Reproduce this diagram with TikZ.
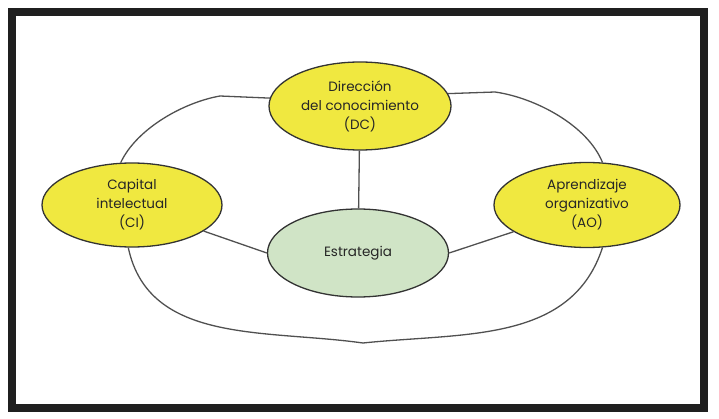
\documentclass[tikz,border=0pt]{standalone}
\usepackage{fontspec}
\setmainfont{Poppins}
\usetikzlibrary{shapes.geometric}
\definecolor{ovalyellow}{RGB}{240,232,64}
\definecolor{ovalgreen}{RGB}{208,228,198}
\definecolor{linegray}{RGB}{80,80,80}
\begin{document}
\begin{tikzpicture}[x=1pt,y=1pt,font=\fontsize{13.5}{19}\selectfont,
  oval/.style={ellipse,draw=black!80,line width=1.3pt,inner sep=0pt,align=center,text=black!85},
  link/.style={linegray,line width=1.3pt}]
  \useasboundingbox (0,0) rectangle (719,418);
  % frame
  \draw[black!88,line width=8pt] (12,10) rectangle (704,406);

  % the four ovals
  \node[oval,fill=ovalyellow,minimum width=182,minimum height=88] (DC) at (360,312)
    {Dirección\\del conocimiento\\(DC)};
  \node[oval,fill=ovalyellow,minimum width=180,minimum height=84] (CI) at (132,213)
    {Capital\\intelectual\\(CI)};
  \node[oval,fill=ovalyellow,minimum width=186,minimum height=85] (AO) at (587,213)
    {Aprendizaje\\organizativo\\(AO)};
  \node[oval,fill=ovalgreen,minimum width=181,minimum height=88] (E) at (358,165)
    {Estrategia};

  % spokes to the strategy
  \draw[link] (DC) -- (E);
  \draw[link] (CI.-20) -- (E.180);
  \draw[link] (AO.200) -- (E.0);

  % outer ring
  \coordinate (tl) at (220,322);
  \coordinate (tr) at (495,326);
  \coordinate (bot) at (363,75);
  \draw[link] (DC.175) -- (tl) to[out=190,in=65,looseness=0.8] (CI.105);
  \draw[link] (DC.8) -- (tr) to[out=-8,in=112,looseness=0.8] (AO.70);
  \draw[link] (CI.265) to[out=-78,in=172] (bot) to[out=6,in=-108] (AO.290);
\end{tikzpicture}
\end{document}
